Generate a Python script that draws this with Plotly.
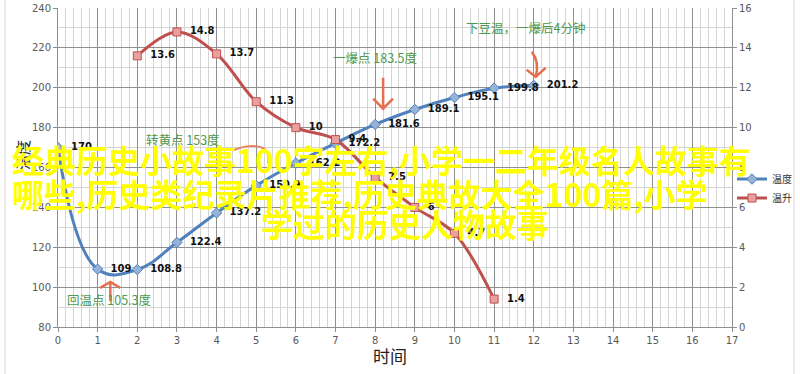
import plotly.graph_objects as go

# ---- data ----
temp_x = [0, 1, 2, 3, 4, 5, 6, 7, 8, 9, 10, 11, 12]
temp_y = [170, 109, 108.8, 122.4, 137.2, 150.9, 162.2, 172.2, 181.6, 189.1, 195.1, 199.8, 201.2]
rise_x = [2, 3, 4, 5, 6, 7, 8, 9, 10, 11]
rise_y = [13.6, 14.8, 13.7, 11.3, 10, 9.4, 7.5, 6, 4.7, 1.4]
series_names = ["温度", "温升"]
notes = [
    ("回温点 105.3度", 1.3, 94),
    ("转黄点 153度", 3.15, 174),
    ("一爆点 183.5度", 8.0, 215),
    ("下豆温，一爆后4分钟", 11.8, 230),
]
overlay_lines = [
    "经典历史小故事100字左右,小学一二年级名人故事有",
    "哪些,历史类纪录片推荐,历史典故大全100篇,小学",
    "学过的历史人物故事",
]

FONT = "Noto Sans CJK SC, Noto Sans, sans-serif"
TICKFONT = dict(family="DejaVu Sans, sans-serif", size=10, color="#595959")
fig = go.Figure()

fig.add_trace(go.Scatter(
    x=temp_x, y=temp_y, name=series_names[0], mode="lines+markers+text",
    line=dict(color="#4F81BD", width=3, shape="spline", smoothing=1.2),
    marker=dict(symbol="diamond", size=8, color="#95B3D7", line=dict(color="#4F81BD", width=1)),
    text=["  " + (str(v)) for v in temp_y], textposition="middle right",
    textfont=dict(family="DejaVu Sans, sans-serif", size=10, color="#111", weight="bold"),
    yaxis="y",
))
fig.add_trace(go.Scatter(
    x=rise_x, y=rise_y, name=series_names[1], mode="lines+markers+text",
    line=dict(color="#C0504D", width=3, shape="spline", smoothing=1.0),
    marker=dict(symbol="square", size=8, color="#E8A0A0", line=dict(color="#C0504D", width=1)),
    text=["  " + (str(v)) for v in rise_y], textposition="middle right",
    textfont=dict(family="DejaVu Sans, sans-serif", size=10, color="#111", weight="bold"),
    yaxis="y2",
))

ann = []
for txt, xx, yy in notes:
    ann.append(dict(x=xx, y=yy, xref="x", yref="y", text=txt, showarrow=False,
                    xanchor="center", yanchor="middle",
                    font=dict(family=FONT, size=12.5, color="#4E9A4E")))

# axis titles
ann.append(dict(x=0.4926, y=-0.088, xref="paper", yref="paper", text="时间", showarrow=False,
                xanchor="center", yanchor="middle",
                font=dict(family=FONT, size=17, color="#222")))
ann.append(dict(x=-0.053, y=0.54, xref="paper", yref="paper", text="温度", showarrow=False,
                xanchor="center", yanchor="middle",
                textangle=-90, font=dict(family=FONT, size=15, color="#222")))

# overlay yellow title
ann.append(dict(x=-0.0712, y=0.527, xref="paper", yref="paper", text=overlay_lines[0],
                xanchor="left", yanchor="middle", showarrow=False,
                font=dict(family=FONT, size=32, color="#FFFF00", weight="bold")))
ann.append(dict(x=-0.0712, y=0.42, xref="paper", yref="paper", text=overlay_lines[1],
                xanchor="left", yanchor="middle", showarrow=False,
                font=dict(family=FONT, size=32, color="#FFFF00", weight="bold")))
ann.append(dict(x=0.515, y=0.326, xref="paper", yref="paper", text=overlay_lines[2],
                xanchor="center", yanchor="middle", showarrow=False,
                font=dict(family=FONT, size=32, color="#FFFF00", weight="bold")))

AR = "#E4704F"
shapes = [
    dict(type="path", xref="x", yref="y", path="M1.32,93 L1.32,102.6 M1.06,99.6 L1.32,102.6 L1.57,99.6",
         line=dict(color=AR, width=2.5)),
    dict(type="path", xref="x", yref="y", path="M8.2,205 L8.2,189 M7.95,194.5 L8.2,189.5 L8.45,194.5",
         line=dict(color=AR, width=2.5)),
    dict(type="path", xref="x", yref="y", path="M11.95,218 Q12.15,213 12.05,205.5 M11.82,209 L12.05,205.5 L12.3,210",
         line=dict(color=AR, width=2.5)),
    dict(type="path", xref="x", yref="y", path="M4.4,168.5 Q4.9,172.5 5.2,169.5 Q5.35,167 5.3,162",
         line=dict(color="#E8866A", width=2)),
    dict(type="rect", xref="paper", yref="paper", x0=-0.0786, x1=1.092, y0=-0.15, y1=1.04,
         line=dict(color="#d9d9d9", width=1), layer="below"),
]

fig.update_layout(
    width=800, height=374,
    margin=dict(l=58, r=68, t=8, b=47, autoexpand=False),
    paper_bgcolor="white", plot_bgcolor="white",
    font=dict(family=FONT, size=11, color="#595959"),
    showlegend=True,
    legend=dict(xref="container", yref="container", x=0.915, y=0.56, xanchor="left", yanchor="top",
                bgcolor="rgba(0,0,0,0)", font=dict(family=FONT, size=10, color="#333"),
                itemwidth=30, tracegroupgap=0),
    annotations=ann,
    shapes=shapes,
    xaxis=dict(range=[0, 17], dtick=1, tick0=0, showgrid=True, gridcolor="#8f8f8f", gridwidth=1,
               minor=dict(dtick=0.2, showgrid=True, gridcolor="#d4d4d4", gridwidth=1),
               showline=True, linecolor="#8f8f8f", ticks="outside", ticklen=4, tickcolor="#8f8f8f",
               zeroline=False, automargin=False, tickfont=TICKFONT),
    yaxis=dict(range=[80, 240], dtick=20, showgrid=True, gridcolor="#8f8f8f", gridwidth=1,
               minor=dict(dtick=10, showgrid=True, gridcolor="#d4d4d4", gridwidth=1),
               showline=True, linecolor="#8f8f8f", ticks="outside", ticklen=4, tickcolor="#8f8f8f",
               zeroline=False, automargin=False, tickfont=TICKFONT),
    yaxis2=dict(range=[0, 16], dtick=2, overlaying="y", side="right", showgrid=False,
                showline=True, linecolor="#8f8f8f", ticks="outside", ticklen=4, tickcolor="#8f8f8f",
                zeroline=False, automargin=False, tickfont=TICKFONT),
)

fig.write_html("out.html", config={"displayModeBar": False},
               post_script="document.body.style.margin='0px';")
